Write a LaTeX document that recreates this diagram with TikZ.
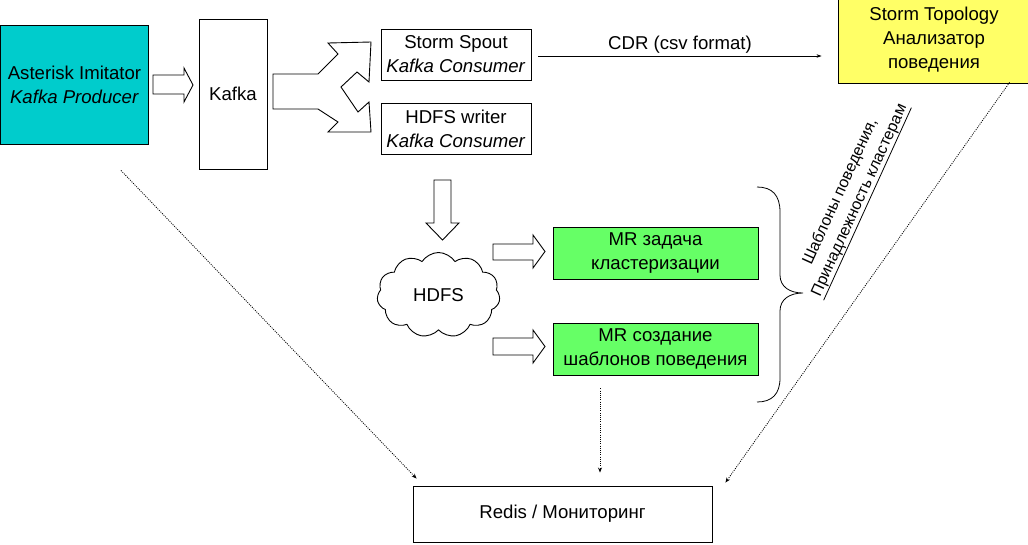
\documentclass[tikz,border=0pt]{standalone}
\usepackage{fontspec}
\setmainfont{Liberation Sans}
\usetikzlibrary{shapes.symbols,arrows.meta,calc}
\definecolor{cyanfill}{HTML}{00CCCC}
\definecolor{yellowfill}{HTML}{FFFF66}
\definecolor{greenfill}{HTML}{66FF66}
\begin{document}
\begin{tikzpicture}[x=1pt,y=-1pt,
  every node/.style={font=\fontsize{18.6}{24}\selectfont},
  box/.style={draw=black,line width=0.9pt,align=center,inner sep=0pt},
  blockarrow/.style={draw=black,line width=0.9pt,fill=white,line join=miter},
  dotarrow/.style={line width=0.8pt,dash pattern=on 1pt off 1.2pt,-{Stealth[length=5pt,width=4pt]}},
  cdrarrow/.style={line width=0.7pt,-{Stealth[length=5pt,width=3.5pt]}}]
\useasboundingbox (0,0) rectangle (1028,544);

% boxes
\node[box,fill=cyanfill,minimum width=148pt,minimum height=119pt] (ast) at (74.5,84.5) {Asterisk Imitator\\\textit{Kafka Producer}};
\node[box,minimum width=68pt,minimum height=150pt] (kafka) at (233,94) {Kafka};
\node[box,minimum width=150pt,minimum height=51pt] (spout) at (456,54.5) {Storm Spout\\\textit{Kafka Consumer}};
\node[box,minimum width=150pt,minimum height=51pt] (writer) at (456,128.5) {HDFS writer\\\textit{Kafka Consumer}};
\node[box,fill=yellowfill,minimum width=192pt,minimum height=86pt] (topo) at (934,40) {Storm Topology\\Анализатор\\поведения};
\node[box,fill=greenfill,minimum width=205pt,minimum height=52pt] (mr1) at (655.5,253) {MR задача\\кластеризации};
\node[box,fill=greenfill,minimum width=205pt,minimum height=52pt] (mr2) at (655.5,349) {MR создание\\шаблонов поведения};
\node[box,minimum width=299pt,minimum height=56pt] (redis) at (562.5,514) {Redis / Мониторинг};
\node[cloud,draw=black,line width=0.9pt,cloud puffs=11,cloud puff arc=115,cloud ignores aspect,minimum width=123pt,minimum height=85pt,inner sep=0pt] (hdfs) at (438.5,295) {HDFS};

% block arrows
\draw[blockarrow] (153,75) -- (184,75) -- (184,68) -- (193,85) -- (184,102) -- (184,94) -- (153,94) -- cycle;
\draw[blockarrow] (273,74) -- (318,74) -- (338,54) -- (328,43) -- (371,42) -- (369,82) -- (357,72) -- (341,87) -- (358,112) -- (369,102) -- (371,132) -- (328,132) -- (338,122) -- (318,109) -- (273,109) -- cycle;
\draw[blockarrow] (434,180) -- (451,180) -- (451,223) -- (459,223) -- (442.5,240) -- (426,223) -- (434,223) -- cycle;
\draw[blockarrow] (493,244) -- (533,244) -- (533,235) -- (545,251.5) -- (533,268) -- (533,260) -- (493,260) -- cycle;
\draw[blockarrow] (493,338) -- (533,338) -- (533,330) -- (545,346.5) -- (533,363) -- (533,355) -- (493,355) -- cycle;

% CDR connector
\draw[cdrarrow] ([xshift=7pt,yshift=-1.5pt]spout.east) -- ([xshift=-16pt,yshift=-1.5pt]spout.east -| topo.west) node[midway,above,inner sep=2pt] {CDR (csv format)};

% brace
\draw[line width=0.8pt] (757,187) .. controls (772,187) and (780,195) .. (780,212) -- (780,275) .. controls (780,287) and (790,293) .. (803,293) .. controls (790,293) and (780,299) .. (780,311) -- (780,378) .. controls (780,394) and (772,402) .. (757,402);

% rotated label
\node[rotate=65.5,align=center,inner sep=1pt,font=\fontsize{16}{21}\selectfont] (lbl) at (850,196) {Шаблоны поведения,\\Принадлежность кластерам};
\draw[line width=0.8pt] (lbl.south west) -- (lbl.south east);

% dotted connectors
\draw[dotarrow] ($(ast.south east)+(-28,26)$) -- ($(redis.north west)+(4,-7)$);
\draw[dotarrow] ($(mr2.south)+(-55.5,13)$) -- ($(redis.north)+(37.5,-13)$);
\draw[dotarrow] ($(topo.south west)+(172,-1)$) -- ($(redis.north east)+(13,-3)$);
\end{tikzpicture}
\end{document}
